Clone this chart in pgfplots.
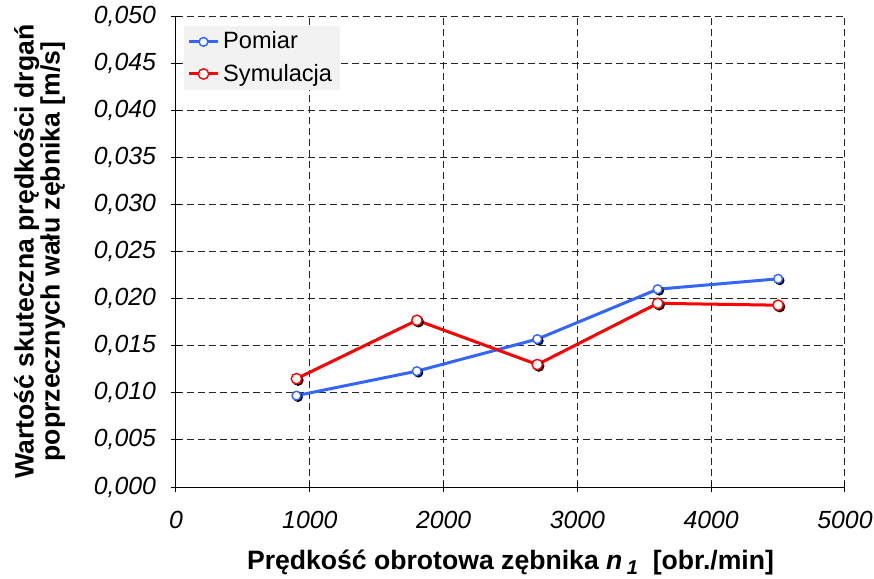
\documentclass[border=0pt]{standalone}
\usepackage{fontspec}
\setmainfont{Liberation Sans}
\usepackage{pgfplots}
\pgfplotsset{compat=1.18}
\definecolor{pblue}{RGB}{51,102,255}
\definecolor{pred}{RGB}{255,0,0}
\definecolor{lgbg}{RGB}{242,242,242}
\begin{document}
\begin{tikzpicture}
\begin{axis}[
  at={(88pt,46pt)}, anchor=south west,
  scale only axis, width=334.5pt, height=235.5pt,
  xmin=0, xmax=5000, ymin=0, ymax=0.05,
  xtick={0,1000,...,5000},
  ytick={0,0.005,...,0.0501},
  axis lines=left, axis line style={-, line width=0.5pt},
  tick align=center, major tick length=5pt,
  tick style={black, line width=0.5pt},
  grid=major,
  major grid style={black!85, line width=0.5pt, dash pattern=on 3.5pt off 2pt},
  /pgf/number format/assume math mode=true,
  ticklabel style={font=\fontsize{12.4}{14}\selectfont\itshape},
  xticklabel style={/pgf/number format/1000 sep={}, yshift=-6pt},
  yticklabel style={/pgf/number format/.cd, fixed, fixed zerofill, precision=3, use comma, /tikz/xshift=-4pt},
  scaled y ticks=false,
  xlabel={Prędkość obrotowa zębnika \textit{n}\,\raisebox{-0.35ex}{\fontsize{10}{11}\selectfont\textit{1}}\ \ [obr./min]},
  ylabel={Wartość skuteczna prędkości drgań\\poprzecznych wału zębnika [m/s]},
  label style={font=\fontsize{13.3}{13}\selectfont\bfseries},
  ylabel style={align=center, yshift=7.5pt},
  xlabel style={yshift=-4pt},
  legend style={at={(0.011,0.98)}, anchor=north west, fill=lgbg, draw=none,
    font=\fontsize{11.8}{14}\selectfont, inner xsep=2pt, inner ysep=1pt, row sep=2pt},
  legend cell align=left,
  legend image code/.code={\draw[mark repeat=2,mark phase=2] plot coordinates {(0cm,0cm) (0.25cm,0cm) (0.5cm,0cm)};},
  clip=false,
]
% shadows
\addplot[only marks, mark=*, mark size=2.2pt, mark options={fill=black, draw=black, xshift=0.8pt, yshift=-0.8pt}, forget plot]
  coordinates {(900,0.0097) (1800,0.0123) (2700,0.0157) (3600,0.0210) (4500,0.0221)};
\addplot[only marks, mark=*, mark size=2.6pt, mark options={fill=black, draw=black, xshift=0.8pt, yshift=-0.8pt}, forget plot]
  coordinates {(900,0.0115) (1800,0.0177) (2700,0.0130) (3600,0.0195) (4500,0.0193)};
\addplot[pblue, line width=1.5pt, mark=*, mark size=2.2pt, mark options={fill=white, draw=pblue, line width=0.7pt}]
  coordinates {(900,0.0097) (1800,0.0123) (2700,0.0157) (3600,0.0210) (4500,0.0221)};
\addlegendentry{Pomiar}
\addplot[pred, line width=1.5pt, mark=*, mark size=2.6pt, mark options={fill=white, draw=pred, line width=0.7pt}]
  coordinates {(900,0.0115) (1800,0.0177) (2700,0.0130) (3600,0.0195) (4500,0.0193)};
\addlegendentry{Symulacja}
\end{axis}
\pgfresetboundingbox
\path[use as bounding box] (0,0) rectangle (437pt,289.5pt);
\end{tikzpicture}
\end{document}
